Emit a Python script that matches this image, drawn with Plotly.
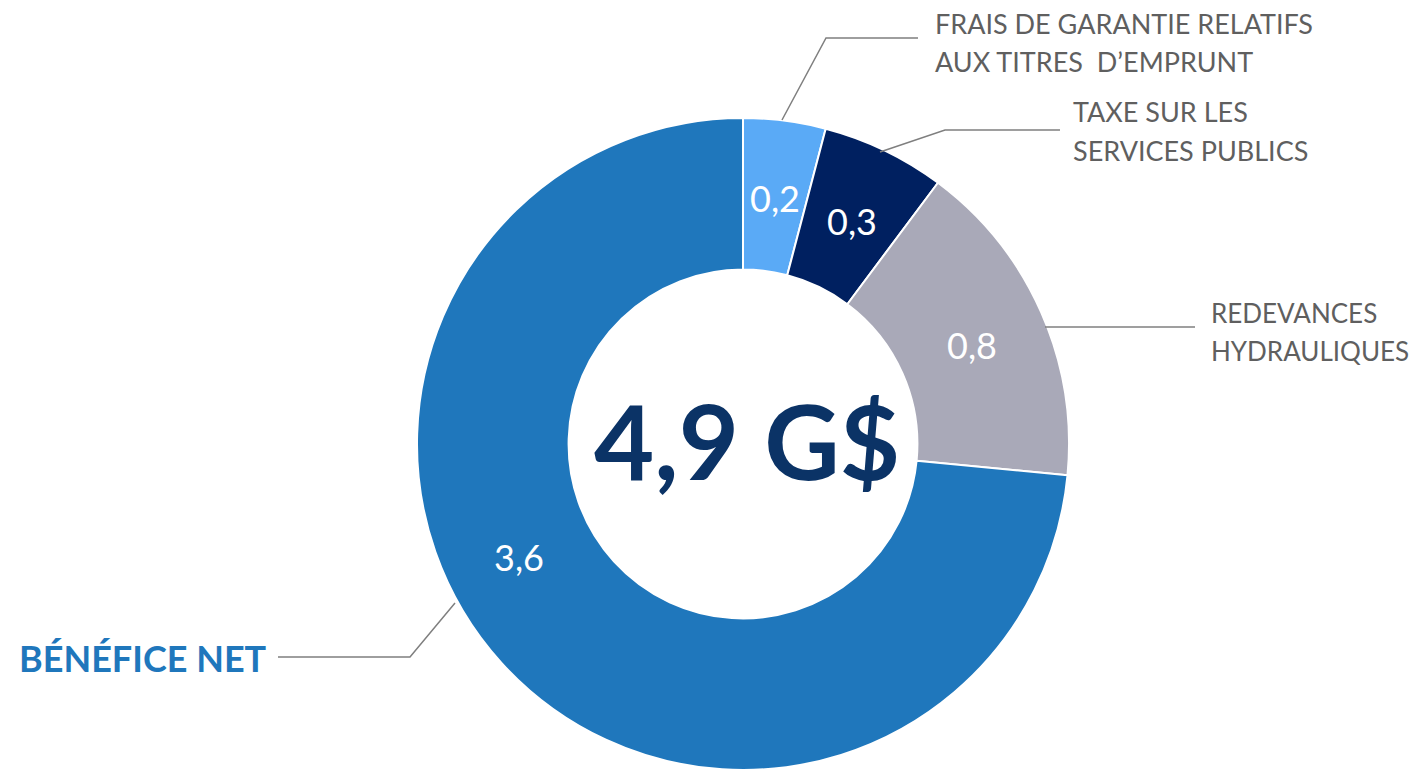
import math
import plotly.graph_objects as go

# ---- data ----
categories = ["FRAIS DE GARANTIE RELATIFS AUX TITRES D’EMPRUNT",
              "TAXE SUR LES SERVICES PUBLICS",
              "REDEVANCES HYDRAULIQUES",
              "BÉNÉFICE NET"]
values = [0.2, 0.3, 0.8, 3.6]
value_labels = ["0,2", "0,3", "0,8", "3,6"]
total_label = "4,9 G$"
label_lines = [["FRAIS DE GARANTIE RELATIFS", "AUX TITRES  D’EMPRUNT"],
               ["TAXE SUR LES", "SERVICES PUBLICS"],
               ["REDEVANCES", "HYDRAULIQUES"],
               ["BÉNÉFICE NET"]]
colors = ["#5AAAF6", "#002060", "#A9A9B8", "#1F77BC"]

# ---- layout (page has an 8px body margin) ----
OFF = 8
W, H = 1417, 773
CX, CY, R = 743, 444, 326
HOLE = 0.535
FONT = "Lato"


def px(x):
    return (x - OFF) / W


def py(y):
    return 1 - (y - OFF) / H


fig = go.Figure(go.Pie(
    labels=categories, values=values, sort=False, direction="clockwise",
    rotation=0, hole=HOLE,
    marker=dict(colors=colors, line=dict(color="white", width=2)),
    textinfo="none",
    domain=dict(x=[px(CX - R), px(CX + R)], y=[py(CY + R), py(CY - R)]),
    showlegend=False, hoverinfo="label+value",
))

annotations = []
# center total
annotations.append(dict(x=px(CX + 4), y=py(CY - 5), xref="paper", yref="paper",
                        text="<b>" + total_label + "</b>", showarrow=False,
                        font=dict(family=FONT, size=104, color="#0B3366"),
                        xanchor="center", yanchor="middle"))

# value labels placed in the ring at each slice's mid angle
total = sum(values)
angle_shift = [0, 0, 0, 16]   # the big slice's label sits further round
r_mid = R * (1 + HOLE) / 2
cum = 0
for v, lab, sh in zip(values, value_labels, angle_shift):
    mid = (cum + v / 2) / total * 360 + sh
    cum += v
    a = math.radians(mid)
    lx = CX + r_mid * math.sin(a)
    ly = CY - r_mid * math.cos(a)
    annotations.append(dict(x=px(lx), y=py(ly + 2), xref="paper", yref="paper",
                            text=lab, showarrow=False,
                            font=dict(family=FONT, size=36, color="white"),
                            xanchor="center", yanchor="middle"))

label_pos = [(933, [23, 61], 27), (1071, [111, 150], 27), (1209, [313, 351], 26)]
for lines, (lx, lys, fs) in zip(label_lines[:3], label_pos):
    for t, ly in zip(lines, lys):
        annotations.append(dict(x=px(lx), y=py(ly), xref="paper", yref="paper",
                                text=t, showarrow=False,
                                font=dict(family=FONT, size=fs, color="#5F5F5F"),
                                xanchor="left", yanchor="middle"))
annotations.append(dict(x=px(17), y=py(658), xref="paper", yref="paper",
                        text="<b>" + label_lines[3][0] + "</b>", showarrow=False,
                        font=dict(family=FONT, size=36, color="#1F77BC"),
                        xanchor="left", yanchor="middle"))

leaders = [[(782, 120), (826, 38), (918, 38)],
           [(880, 152), (945, 130), (1060, 130)],
           [(1045, 327), (1195, 327)],
           [(455, 603), (410, 657), (278, 657)]]
shapes = []
for pts in leaders:
    path = "M " + " L ".join(f"{px(x):.5f},{py(y):.5f}" for x, y in pts)
    shapes.append(dict(type="path", path=path, xref="paper", yref="paper",
                       line=dict(color="#7F7F7F", width=1.5)))

fig.update_layout(width=W, height=H, margin=dict(l=0, r=0, t=0, b=0),
                  paper_bgcolor="white", plot_bgcolor="white",
                  annotations=annotations, shapes=shapes)

fig.write_html("out.html")
